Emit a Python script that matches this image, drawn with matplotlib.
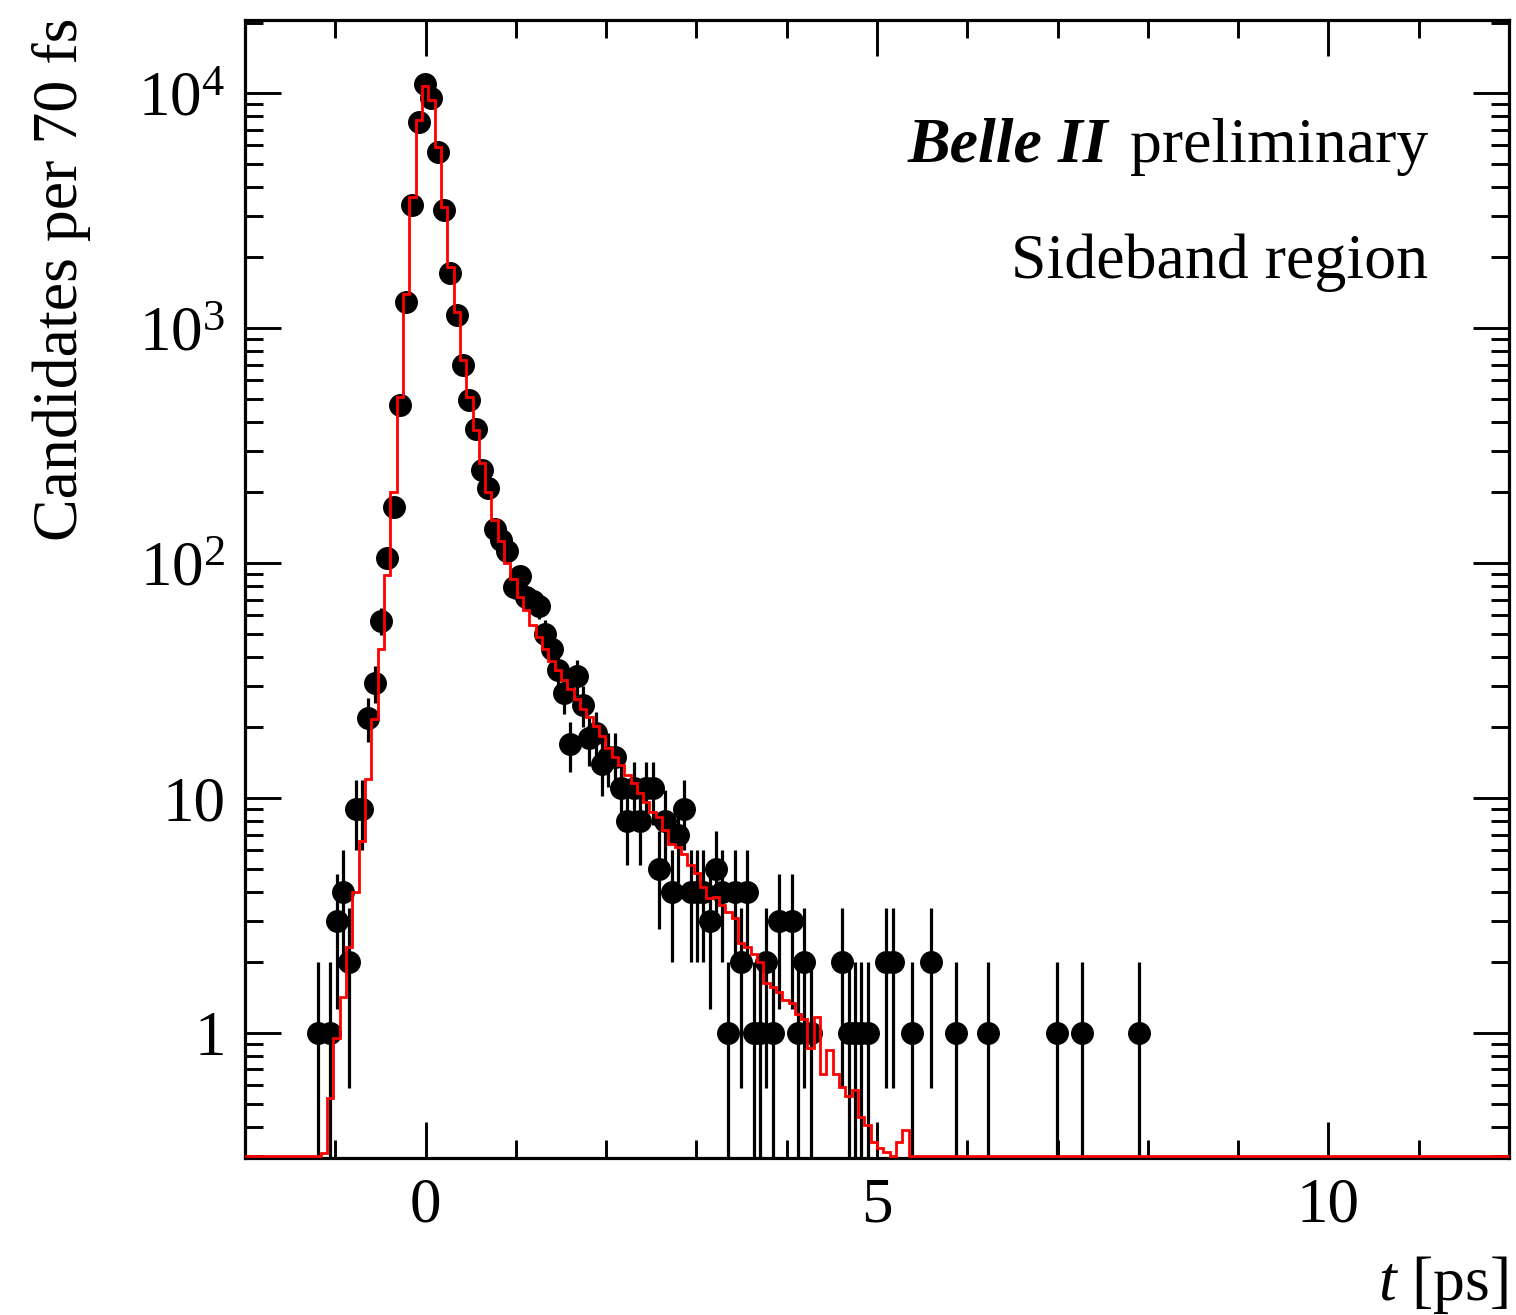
import numpy as np
import matplotlib
matplotlib.use("Agg")
import matplotlib.pyplot as plt
from matplotlib.ticker import FixedLocator, MultipleLocator, LogLocator, NullFormatter

plt.rcParams["font.family"] = ["Liberation Serif", "DejaVu Serif"]
plt.rcParams["mathtext.fontset"] = "custom"
plt.rcParams["mathtext.rm"] = "Liberation Serif"
plt.rcParams["mathtext.it"] = "Liberation Serif:italic"
plt.rcParams["mathtext.bf"] = "Liberation Serif:bold"

# Decay-time histogram: 200 bins of 70 fs from -2 ps to 12 ps
T_MIN, T_MAX, N_BINS = -2.0, 12.0, 200

# Observed candidates per bin (bins beyond the list are empty)
counts = [
    0, 0, 0, 0, 0, 0, 0, 0, 0, 0,            # 0-9
    0, 1, 0, 1, 3, 4, 2, 9, 9, 22,           # 10-19
    31, 57, 105, 174, 470, 1290, 3340, 7550, 11000, 9500,   # 20-29
    5600, 3180, 1710, 1135, 697, 494, 371, 249, 208, 140,   # 30-39
    125, 113, 79, 88, 72, 69, 66, 50, 43, 35,  # 40-49
    28, 17, 33, 25, 18, 19, 14, 15, 15, 11,    # 50-59
    8, 11, 8, 11, 11, 5, 8, 4, 7, 9,           # 60-69
    4, 4, 4, 3, 5, 4, 1, 4, 2, 4,              # 70-79
    1, 1, 2, 1, 3, 0, 3, 1, 2, 1,              # 80-89
    0, 0, 0, 0, 2, 1, 1, 1, 1, 0,              # 90-99
    0, 2, 2, 0, 0, 1, 0, 0, 2, 0,              # 100-109
    0, 0, 1, 0, 0, 0, 0, 1, 0, 0,              # 110-119
    0, 0, 0, 0, 0, 0, 0, 0, 1, 0,              # 120-129
    0, 0, 1, 0, 0, 0, 0, 0, 0, 0,              # 130-139
    0, 1,                                      # 140-141
]

# Fitted background template per bin (bins beyond the list are empty)
model = [
    0, 0, 0, 0, 0, 0, 0, 0, 0, 0,
    0, 0, 0.31, 0.53, 0.95, 1.43, 2.33, 4.0, 6.6, 12.1,
    21.8, 43.3, 88.7, 200, 510, 1400, 3600, 7700, 10750, 9400,
    5900, 3280, 1820, 1170, 731, 510, 368, 266, 200, 152,
    124, 100, 86, 72, 63, 54.4, 48.6, 43.3, 38.5, 35,
    31.7, 29.2, 26.5, 24, 22.2, 20.2, 18.3, 16.3, 15.0, 13.8,
    12.6, 11.6, 10.5, 9.6, 8.7, 8.3, 7.3, 6.4, 6.2, 5.8,
    5.2, 4.8, 4.2, 3.75, 3.8, 3.5, 3.28, 3.08, 2.41, 2.33,
    2.18, 2.01, 1.63, 1.57, 1.50, 1.38, 1.34, 1.21, 1.15, 0.86,
    1.17, 0.67, 0.85, 0.67, 0.59, 0.54, 0.57, 0.44, 0.406, 0.345,
    0.323, 0.313, 0.30, 0.345, 0.387,
]

y_range = (0.294, 2.05e4)
x_major = [0, 5, 10]
x_major_labels = ["0", "5", "10"]
y_major = [1, 10, 100, 1000, 10000]
y_major_labels = ["1", "10", r"$10^{2}$", r"$10^{3}$", r"$10^{4}$"]

edges = np.linspace(T_MIN, T_MAX, N_BINS + 1)
centers = 0.5 * (edges[:-1] + edges[1:])
n = np.zeros(N_BINS)
n[:len(counts)] = counts
mu = np.zeros(N_BINS)
mu[:len(model)] = model

W, H = 1516, 1315
fig = plt.figure(figsize=(W / 100, H / 100), dpi=100)
ax = fig.add_axes([245 / W, (H - 1158) / H, 1264 / W, 1138 / H])
ax.set_yscale("log")
ax.set_xlim(T_MIN, T_MAX)
ax.set_ylim(*y_range)

# data points with Poisson error bars
sel = n > 0
y = n[sel]
err = np.sqrt(y)
low_end = np.where(y - err > 0, y - err, 1e-3)
ax.errorbar(centers[sel], y, yerr=[y - low_end, err], fmt="o", color="black",
            ms=15.5, elinewidth=2.3, capsize=0, zorder=3)

# template as a step outline; empty bins sit on the lower frame
floor = y_range[0] * 1.02
ax.stairs(np.maximum(mu, floor), edges, baseline=None, color="red", lw=2.0,
          zorder=4, clip_on=False)

# axes styling
ax.xaxis.set_major_locator(FixedLocator(x_major))
ax.set_xticklabels(x_major_labels)
ax.xaxis.set_minor_locator(MultipleLocator(1))
ax.yaxis.set_major_locator(FixedLocator(y_major))
ax.set_yticklabels(y_major_labels)
ax.yaxis.set_minor_locator(LogLocator(base=10, subs=np.arange(2, 10)))
ax.yaxis.set_minor_formatter(NullFormatter())
ax.tick_params(which="both", direction="in", top=True, right=True, width=2.1)
ax.tick_params(which="major", length=26, labelsize=45.5)
ax.tick_params(which="minor", length=13)
ax.tick_params(axis="y", which="major", pad=14)
ax.tick_params(axis="x", which="major", pad=14)
for s in ax.spines.values():
    s.set_linewidth(2.3)

fs = 46
fig.text(1508 / W, 1 - 1300 / H, r"$t$ [ps]", ha="right", va="baseline", fontsize=fs)
fig.text(62 / W, 1 - 18 / H, "Candidates per 70 fs", rotation=90,
         ha="center", va="top", fontsize=fs)

# experiment label, right-aligned
fig.canvas.draw()
renderer = fig.canvas.get_renderer()
t_prel = fig.text(1428 / W, 1 - 162 / H, "preliminary", ha="right", va="baseline",
                  fontsize=fs)
bb = t_prel.get_window_extent(renderer)
fig.text((bb.x0 - 22) / W, 1 - 162 / H, "Belle II", ha="right", va="baseline",
         fontsize=fs, fontweight="bold", fontstyle="italic")
fig.text(1428 / W, 1 - 278 / H, "Sideband region", ha="right", va="baseline",
         fontsize=fs)

fig.savefig("out.png", dpi=100)
